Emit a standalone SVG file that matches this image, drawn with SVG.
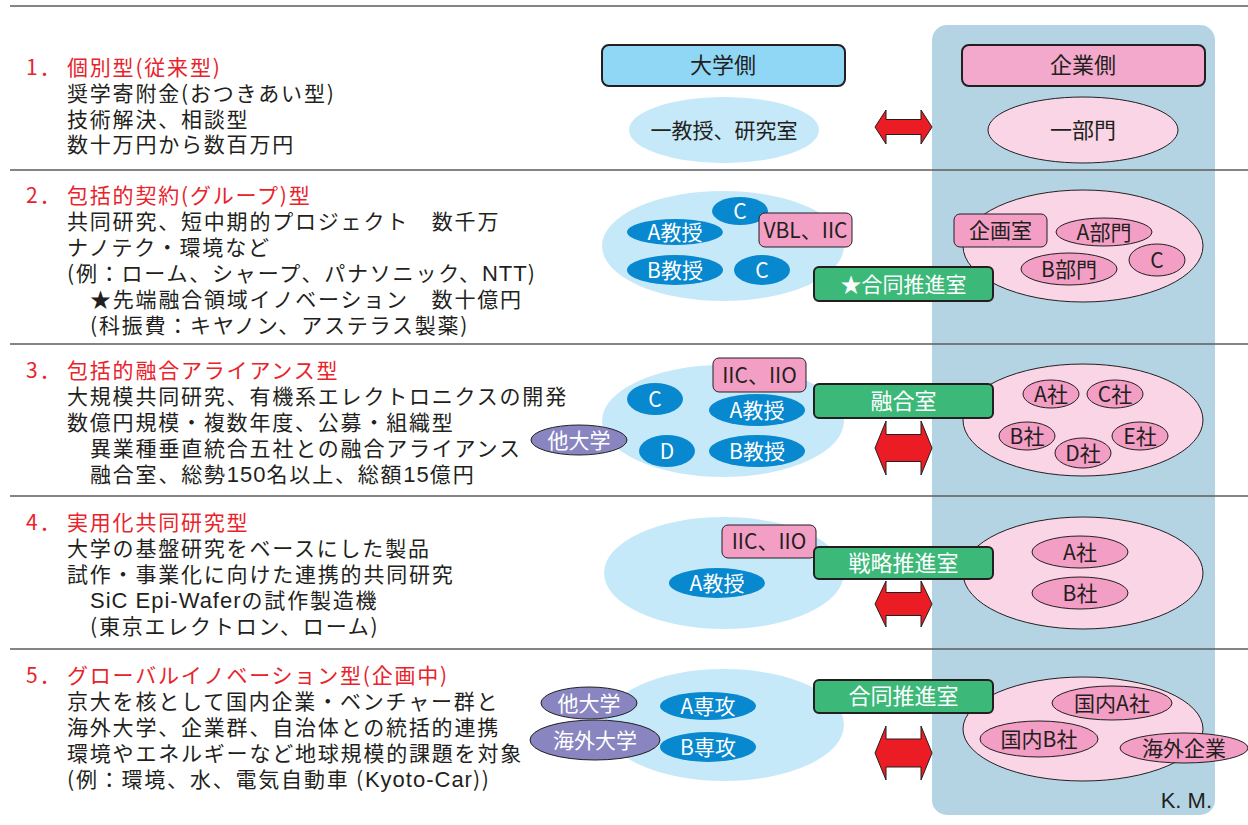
<svg xmlns="http://www.w3.org/2000/svg" width="1248" height="825" viewBox="0 0 1248 825">
<style>
text{font-family:"Noto Sans CJK JP","Noto Sans",sans-serif;}
.sep{stroke:#5c5c5c;stroke-width:1.6;fill:none}
.lt{font-size:21px;letter-spacing:1.8px;fill:#231f20}
.red{fill:#e8232b}
.la{font-family:"Liberation Sans",Arial,sans-serif;font-size:22px;letter-spacing:1px}
.lb{fill:#c6e9f9}
.pk{fill:#f9d5e6;stroke:#231f20;stroke-width:1}
.bo{fill:#0788cf}
.po{fill:#f39ec4;stroke:#231f20;stroke-width:1}
.pu{fill:#8985c0;stroke:#231f20;stroke-width:1}
.gr{fill:#3cb978;stroke:#231f20;stroke-width:2}
.nt{font-size:21px;text-anchor:middle;fill:#231f20}
.wt{font-size:21px;text-anchor:middle;fill:#ffffff}
.arr{fill:#ec1c24;stroke:#231f20;stroke-width:1}
</style>
<rect width="1248" height="825" fill="#ffffff"/>
<rect id="panel" x="932" y="25" width="283" height="790" rx="15" fill="#b4d4e4"/>
<g id="separators">
<line class="sep" x1="10" y1="6" x2="1248" y2="6"/>
<line class="sep" x1="10" y1="170" x2="1248" y2="170"/>
<line class="sep" x1="10" y1="344" x2="1248" y2="344"/>
<line class="sep" x1="10" y1="496" x2="1248" y2="496"/>
<line class="sep" x1="10" y1="649" x2="1248" y2="649"/>
</g>
<g id="text-row1">
<text class="lt"><tspan class="red" x="26" y="75">1．</tspan><tspan class="red" x="67" y="75">個別型(従来型)</tspan><tspan x="67" y="101">奨学寄附金(おつきあい型)</tspan><tspan x="67" y="127">技術解決、相談型</tspan><tspan x="67" y="152">数十万円から数百万円</tspan></text>
</g>
<g id="text-row2">
<text class="lt"><tspan class="red" x="26" y="203">2．</tspan><tspan class="red" x="67" y="203">包括的契約(グループ)型</tspan><tspan x="67" y="229">共同研究、短中期的プロジェクト　数千万</tspan><tspan x="67" y="255">ナノテク・環境など</tspan><tspan x="67" y="281">(例：ローム、シャープ、パナソニック、</tspan><tspan class="la">NTT</tspan><tspan>)</tspan><tspan x="90" y="307">★先端融合領域イノベーション　数十億円</tspan><tspan x="90" y="333">(科振費：キヤノン、アステラス製薬)</tspan></text>
</g>
<g id="text-row3">
<text class="lt"><tspan class="red" x="26" y="378">3．</tspan><tspan class="red" x="67" y="378">包括的融合アライアンス型</tspan><tspan x="67" y="404">大規模共同研究、有機系エレクトロニクスの開発</tspan><tspan x="67" y="430">数億円規模・複数年度、公募・組織型</tspan><tspan x="90" y="456">異業種垂直統合五社との融合アライアンス</tspan><tspan x="90" y="482">融合室、総勢</tspan><tspan class="la">150</tspan><tspan>名以上、総額</tspan><tspan class="la">15</tspan><tspan>億円</tspan></text>
</g>
<g id="text-row4">
<text class="lt"><tspan class="red" x="26" y="530">4．</tspan><tspan class="red" x="67" y="530">実用化共同研究型</tspan><tspan x="67" y="556">大学の基盤研究をベースにした製品</tspan><tspan x="67" y="582">試作・事業化に向けた連携的共同研究</tspan><tspan class="la" x="90" y="608">SiC Epi-Wafer</tspan><tspan>の試作製造機</tspan><tspan x="90" y="634">(東京エレクトロン、ローム)</tspan></text>
</g>
<g id="text-row5">
<text class="lt"><tspan class="red" x="26" y="683">5．</tspan><tspan class="red" x="67" y="683">グローバルイノベーション型(企画中)</tspan><tspan x="67" y="709">京大を核として国内企業・ベンチャー群と</tspan><tspan x="67" y="735">海外大学、企業群、自治体との統括的連携</tspan><tspan x="67" y="761">環境やエネルギーなど地球規模的課題を対象</tspan><tspan x="67" y="787">(例：環境、水、電気自動車 (</tspan><tspan class="la">Kyoto-Car</tspan><tspan>))</tspan></text>
</g>
<g id="header-univ">
<rect x="602" y="45" width="243" height="41" rx="7" fill="#8fd7f5" stroke="#231f20" stroke-width="2"/>
<text class="nt" x="723" y="73" style="font-size:22px">大学側</text>
</g>
<g id="header-corp">
<rect x="962" y="45" width="243" height="41" rx="7" fill="#f3a9cb" stroke="#231f20" stroke-width="2"/>
<text class="nt" x="1083" y="73" style="font-size:22px">企業側</text>
</g>
<g id="r1-univ">
<ellipse class="lb" cx="724" cy="130" rx="95" ry="33"/>
<text class="nt" x="724" y="138">一教授、研究室</text>
</g>
<g id="r1-corp">
<ellipse class="pk" cx="1083" cy="130" rx="95" ry="33"/>
<text class="nt" x="1083" y="138" style="font-size:22px">一部門</text>
</g>
<g id="r2-univ">
<ellipse class="lb" cx="723" cy="246" rx="121" ry="55"/>
</g>
<g id="r2-a"><ellipse class="bo" cx="675" cy="232" rx="48" ry="13"/><text class="wt" x="675" y="240">A教授</text></g>
<g id="r2-c1"><ellipse class="bo" cx="740" cy="211" rx="28" ry="14"/><text class="wt" x="740" y="219">C</text></g>
<g id="r2-vbl"><rect class="po" x="759" y="213" width="93" height="34" rx="6"/><text class="nt" x="805.5" y="238">VBL、IIC</text></g>
<g id="r2-b"><ellipse class="bo" cx="675" cy="270" rx="48" ry="15"/><text class="wt" x="675" y="278">B教授</text></g>
<g id="r2-c2"><ellipse class="bo" cx="762" cy="270" rx="28" ry="15"/><text class="wt" x="762" y="278">C</text></g>
<g id="r2-corp"><ellipse class="pk" cx="1083" cy="246" rx="120" ry="56"/></g>
<g id="r2-kikaku"><rect class="po" x="954" y="214" width="93" height="33" rx="6"/><text class="nt" x="1000.5" y="238">企画室</text></g>
<g id="r2-adept"><ellipse class="po" cx="1104" cy="232" rx="48" ry="14"/><text class="nt" x="1104" y="240">A部門</text></g>
<g id="r2-bdept"><ellipse class="po" cx="1069" cy="269" rx="48" ry="16"/><text class="nt" x="1069" y="277">B部門</text></g>
<g id="r2-cdept"><ellipse class="po" cx="1157" cy="260" rx="28" ry="16"/><text class="nt" x="1157" y="268">C</text></g>
<g id="r2-joint"><rect class="gr" x="814" y="267" width="179" height="34" rx="5"/><text class="wt" x="903.5" y="292">★合同推進室</text></g>
<g id="r3-univ"><ellipse class="lb" cx="723" cy="421" rx="121" ry="56"/></g>
<g id="r3-other"><ellipse class="pu" cx="579" cy="440" rx="48" ry="15"/><text class="wt" x="579" y="448">他大学</text></g>
<g id="r3-iic"><rect class="po" x="713" y="358" width="93" height="34" rx="6"/><text class="nt" x="759.5" y="383">IIC、IIO</text></g>
<g id="r3-c"><ellipse class="bo" cx="655" cy="399" rx="28" ry="16"/><text class="wt" x="655" y="407">C</text></g>
<g id="r3-a"><ellipse class="bo" cx="757" cy="410" rx="48" ry="16"/><text class="wt" x="757" y="418">A教授</text></g>
<g id="r3-d"><ellipse class="bo" cx="667" cy="451" rx="28" ry="16"/><text class="wt" x="667" y="459">D</text></g>
<g id="r3-b"><ellipse class="bo" cx="757" cy="451" rx="48" ry="16"/><text class="wt" x="757" y="459">B教授</text></g>
<g id="r3-corp"><ellipse class="pk" cx="1083" cy="420" rx="120" ry="56"/></g>
<g id="r3-ca"><ellipse class="po" cx="1051" cy="394" rx="28" ry="14"/><text class="nt" x="1051" y="402">A社</text></g>
<g id="r3-cc"><ellipse class="po" cx="1115" cy="394" rx="28" ry="14"/><text class="nt" x="1115" y="402">C社</text></g>
<g id="r3-cb"><ellipse class="po" cx="1027" cy="436" rx="28" ry="14"/><text class="nt" x="1027" y="444">B社</text></g>
<g id="r3-ce"><ellipse class="po" cx="1140" cy="436" rx="28" ry="14"/><text class="nt" x="1140" y="444">E社</text></g>
<g id="r3-cd"><ellipse class="po" cx="1083" cy="453" rx="28" ry="15"/><text class="nt" x="1083" y="461">D社</text></g>
<g id="r3-fusion"><rect class="gr" x="814" y="384" width="179" height="34" rx="5"/><text class="wt" x="903.5" y="409" style="font-size:22px">融合室</text></g>
<g id="r4-univ"><ellipse class="lb" cx="724" cy="573" rx="120" ry="56"/></g>
<g id="r4-iic"><rect class="po" x="722" y="525" width="94" height="33" rx="6"/><text class="nt" x="769" y="549">IIC、IIO</text></g>
<g id="r4-a"><ellipse class="bo" cx="717" cy="583" rx="48" ry="15"/><text class="wt" x="717" y="591">A教授</text></g>
<g id="r4-corp"><ellipse class="pk" cx="1083" cy="573" rx="120" ry="56"/></g>
<g id="r4-ca"><ellipse class="po" cx="1080" cy="552" rx="48" ry="16"/><text class="nt" x="1080" y="560">A社</text></g>
<g id="r4-cb"><ellipse class="po" cx="1080" cy="593" rx="48" ry="16"/><text class="nt" x="1080" y="601">B社</text></g>
<g id="r4-strategy"><rect class="gr" x="814" y="547" width="179" height="32" rx="5"/><text class="wt" x="903.5" y="571" style="font-size:22px">戦略推進室</text></g>
<g id="r5-univ"><ellipse class="lb" cx="724" cy="725" rx="120" ry="56"/></g>
<g id="r5-other"><ellipse class="pu" cx="589" cy="703" rx="48" ry="16"/><text class="wt" x="589" y="711">他大学</text></g>
<g id="r5-overseas"><ellipse class="pu" cx="595" cy="740" rx="65" ry="20"/><text class="wt" x="595" y="748">海外大学</text></g>
<g id="r5-a"><ellipse class="bo" cx="708" cy="706" rx="48" ry="14"/><text class="wt" x="708" y="714">A専攻</text></g>
<g id="r5-b"><ellipse class="bo" cx="708" cy="747" rx="48" ry="15"/><text class="wt" x="708" y="755">B専攻</text></g>
<g id="r5-corp"><ellipse class="pk" cx="1083" cy="729" rx="120" ry="52"/></g>
<g id="r5-ca"><ellipse class="po" cx="1112" cy="703" rx="60" ry="17"/><text class="nt" x="1112" y="711">国内A社</text></g>
<g id="r5-cb"><ellipse class="po" cx="1039" cy="739" rx="59" ry="18"/><text class="nt" x="1039" y="747">国内B社</text></g>
<g id="r5-cf"><ellipse class="po" cx="1184" cy="748" rx="64" ry="15"/><text class="nt" x="1184" y="756">海外企業</text></g>
<g id="r5-joint"><rect class="gr" x="814" y="680" width="179" height="33" rx="5"/><text class="wt" x="903.5" y="704" style="font-size:22px">合同推進室</text></g>
<g id="connectors">
<path class="arr" d="M875,127 L886,110 L886,119.5 L921,119.5 L921,110 L932,127 L921,144 L921,134.5 L886,134.5 L886,144 Z"/>
<path class="arr" d="M875,448 L886,421 L886,434.5 L921,434.5 L921,421 L932,448 L921,475 L921,461.5 L886,461.5 L886,475 Z"/>
<path class="arr" d="M875,604 L886,581 L886,592.5 L921,592.5 L921,581 L932,604 L921,627 L921,615.5 L886,615.5 L886,627 Z"/>
<path class="arr" d="M875,753 L886,726 L886,739 L921,739 L921,726 L932,753 L921,780 L921,767 L886,767 L886,780 Z"/>
</g>
<text id="credit" x="1212" y="808" style="font-family:'Liberation Sans',Arial,sans-serif;font-size:22px;text-anchor:end;fill:#231f20">K. M.</text>
</svg>
